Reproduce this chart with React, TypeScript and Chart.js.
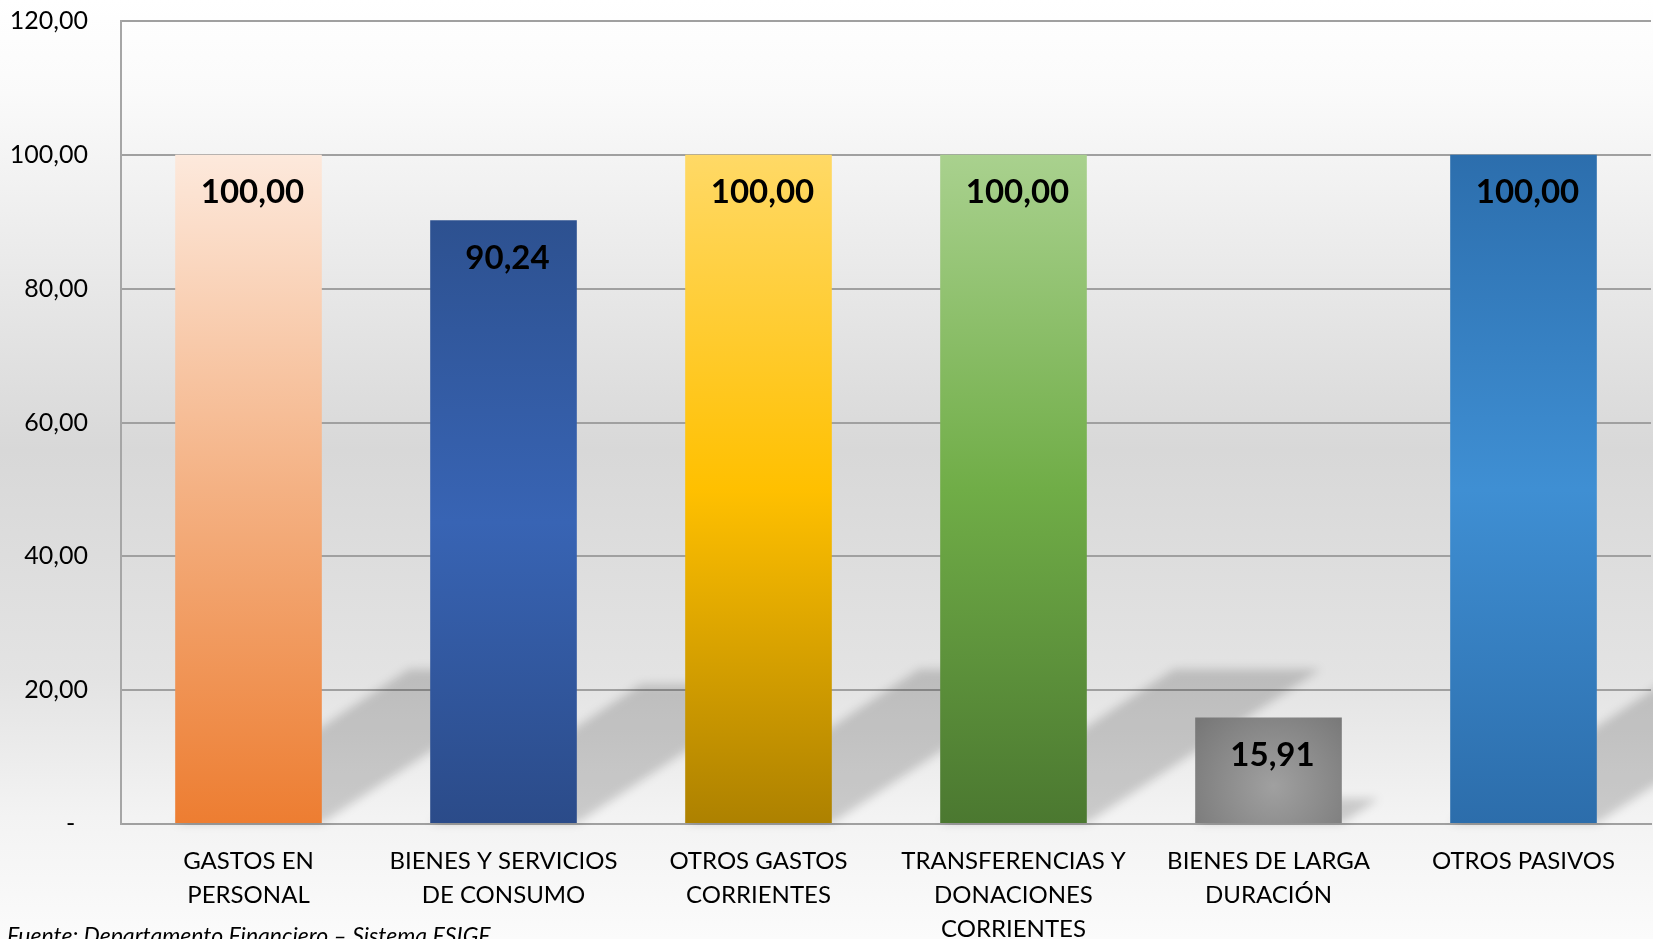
import React, { useEffect, useRef } from "react";
import { Chart, registerables } from "chart.js";

Chart.register(...registerables);

const categories: string[][] = [
  ["GASTOS EN", "PERSONAL"],
  ["BIENES Y SERVICIOS", "DE CONSUMO"],
  ["OTROS GASTOS", "CORRIENTES"],
  ["TRANSFERENCIAS Y", "DONACIONES", "CORRIENTES"],
  ["BIENES DE LARGA", "DURACIÓN"],
  ["OTROS PASIVOS"],
];
const values: number[] = [100, 90.24, 100, 100, 15.91, 100];
const yMin = 0;
const yMax = 120;
const yStep = 20;
const footerText = "Fuente: Departamento Financiero – Sistema ESIGE";

const barStops: (string[] | null)[] = [
  ["#fde9dc", "#f4b183", "#ed7d31"],
  ["#2d5190", "#3864b4", "#2b4b89"],
  ["#ffd966", "#ffc000", "#ad8100"],
  ["#a9d18e", "#70ad47", "#4b7830"],
  null,
  ["#2c6ead", "#3f8fd3", "#2c6dab"],
];
const radialStops = ["#a0a0a0", "#777777"];

const FONT = "Lato, 'Open Sans', sans-serif";

function fmt(v: number): string {
  if (v === 0) return "-  ";
  return v.toFixed(2).replace(".", ",");
}

const bgPlugin = {
  id: "bg",
  beforeDraw(chart: any) {
    const { ctx, width, height } = chart;
    const g = ctx.createLinearGradient(0, 0, 0, height);
    g.addColorStop(0, "#ffffff");
    g.addColorStop(0.1, "#fafafa");
    g.addColorStop(0.48, "#d8d8d8");
    g.addColorStop(0.72, "#e3e3e3");
    g.addColorStop(0.87, "#f3f3f3");
    g.addColorStop(1, "#fbfbfb");
    ctx.save();
    ctx.fillStyle = g;
    ctx.fillRect(0, 0, width, height);
    ctx.restore();
  },
};

const shadowPlugin = {
  id: "shadows",
  beforeDatasetsDraw(chart: any) {
    const { ctx } = chart;
    const meta = chart.getDatasetMeta(0);
    ctx.save();
    ctx.filter = "blur(5px)";
    ctx.fillStyle = "rgba(0,0,0,0.17)";
    meta.data.forEach((bar: any) => {
      const h = bar.base - bar.y;
      const l = bar.x - bar.width / 2;
      const r = bar.x + bar.width / 2;
      const dx = 0.35 * h;
      const dy = 0.23 * h;
      ctx.beginPath();
      ctx.moveTo(l, bar.base);
      ctx.lineTo(r, bar.base);
      ctx.lineTo(r + dx, bar.base - dy);
      ctx.lineTo(l + dx, bar.base - dy);
      ctx.closePath();
      ctx.fill();
    });
    ctx.restore();
  },
};

const labelPlugin = {
  id: "vlabels",
  afterDatasetsDraw(chart: any) {
    const { ctx } = chart;
    const meta = chart.getDatasetMeta(0);
    ctx.save();
    ctx.font = `bold 33px ${FONT}`;
    ctx.fillStyle = "#000000";
    ctx.textAlign = "center";
    ctx.textBaseline = "middle";
    meta.data.forEach((bar: any, i: number) => {
      ctx.fillText(fmt(values[i]), bar.x + 4, bar.y + 38);
    });
    ctx.restore();
  },
};

const footerPlugin = {
  id: "footer",
  afterDraw(chart: any) {
    const { ctx } = chart;
    ctx.save();
    ctx.font = `italic 23px ${FONT}`;
    ctx.fillStyle = "#000000";
    ctx.textAlign = "left";
    ctx.textBaseline = "alphabetic";
    ctx.fillText(footerText, 7, 944);
    ctx.restore();
  },
};

export default function App() {
  const ref = useRef<HTMLCanvasElement | null>(null);

  useEffect(() => {
    if (!ref.current) return;
    const chart = new Chart(ref.current, {
      type: "bar",
      data: {
        labels: categories,
        datasets: [
          {
            data: values,
            backgroundColor: (c: any) => {
              const chart = c.chart;
              const i = c.dataIndex;
              const { scales, chartArea } = chart;
              if (!chartArea || !scales.y || !scales.x || i === undefined) return "#888";
              const top = scales.y.getPixelForValue(values[i]);
              const base = scales.y.getPixelForValue(0);
              const stops = barStops[i];
              if (stops) {
                const g = chart.ctx.createLinearGradient(0, top, 0, base);
                g.addColorStop(0, stops[0]);
                g.addColorStop(0.5, stops[1]);
                g.addColorStop(1, stops[2]);
                return g;
              }
              const cx = scales.x.getPixelForValue(i);
              const g = chart.ctx.createRadialGradient(cx + 5, base - 38, 0, cx + 5, base - 38, 100);
              g.addColorStop(0, radialStops[0]);
              g.addColorStop(1, radialStops[1]);
              return g;
            },
            borderWidth: 0,
            categoryPercentage: 1,
            barPercentage: 0.575,
          },
        ],
      },
      options: {
        animation: false,
        responsive: false,
        maintainAspectRatio: false,
        layout: { padding: { top: 21, left: 0, right: 2, bottom: 0 } },
        plugins: {
          legend: { display: false },
          tooltip: { enabled: false },
          title: { display: false },
        },
        scales: {
          x: {
            grid: { display: false, drawTicks: false },
            border: { display: true, color: "#a0a0a0", width: 2 },
            ticks: {
              color: "#000000",
              font: { family: FONT, size: 24, lineHeight: 1.42 },
              padding: 20,
              maxRotation: 0,
              minRotation: 0,
              autoSkip: false,
            },
            afterFit(scale: any) {
              scale.height = 115;
              scale.paddingLeft = 0;
              scale.paddingRight = 0;
            },
          },
          y: {
            min: yMin,
            max: yMax,
            grid: { color: "#a0a0a0", lineWidth: 2, drawTicks: false },
            border: { display: true, color: "#a6a6a6", width: 2 },
            ticks: {
              stepSize: yStep,
              color: "#000000",
              font: { family: FONT, size: 25 },
              padding: 33,
              callback: (v: any) => fmt(Number(v)),
            },
            afterFit(scale: any) {
              scale.width = 121;
              scale.paddingTop = 0;
              scale.paddingBottom = 0;
            },
          },
        },
      },
      plugins: [bgPlugin, shadowPlugin, labelPlugin, footerPlugin],
    } as any);
    return () => chart.destroy();
  }, []);

  return (
    <div style={{ position: "fixed", left: 0, top: 0, width: 1653, height: 939 }}>
      <canvas ref={ref} width={1653} height={939} style={{ width: 1653, height: 939, display: "block" }} />
    </div>
  );
}
